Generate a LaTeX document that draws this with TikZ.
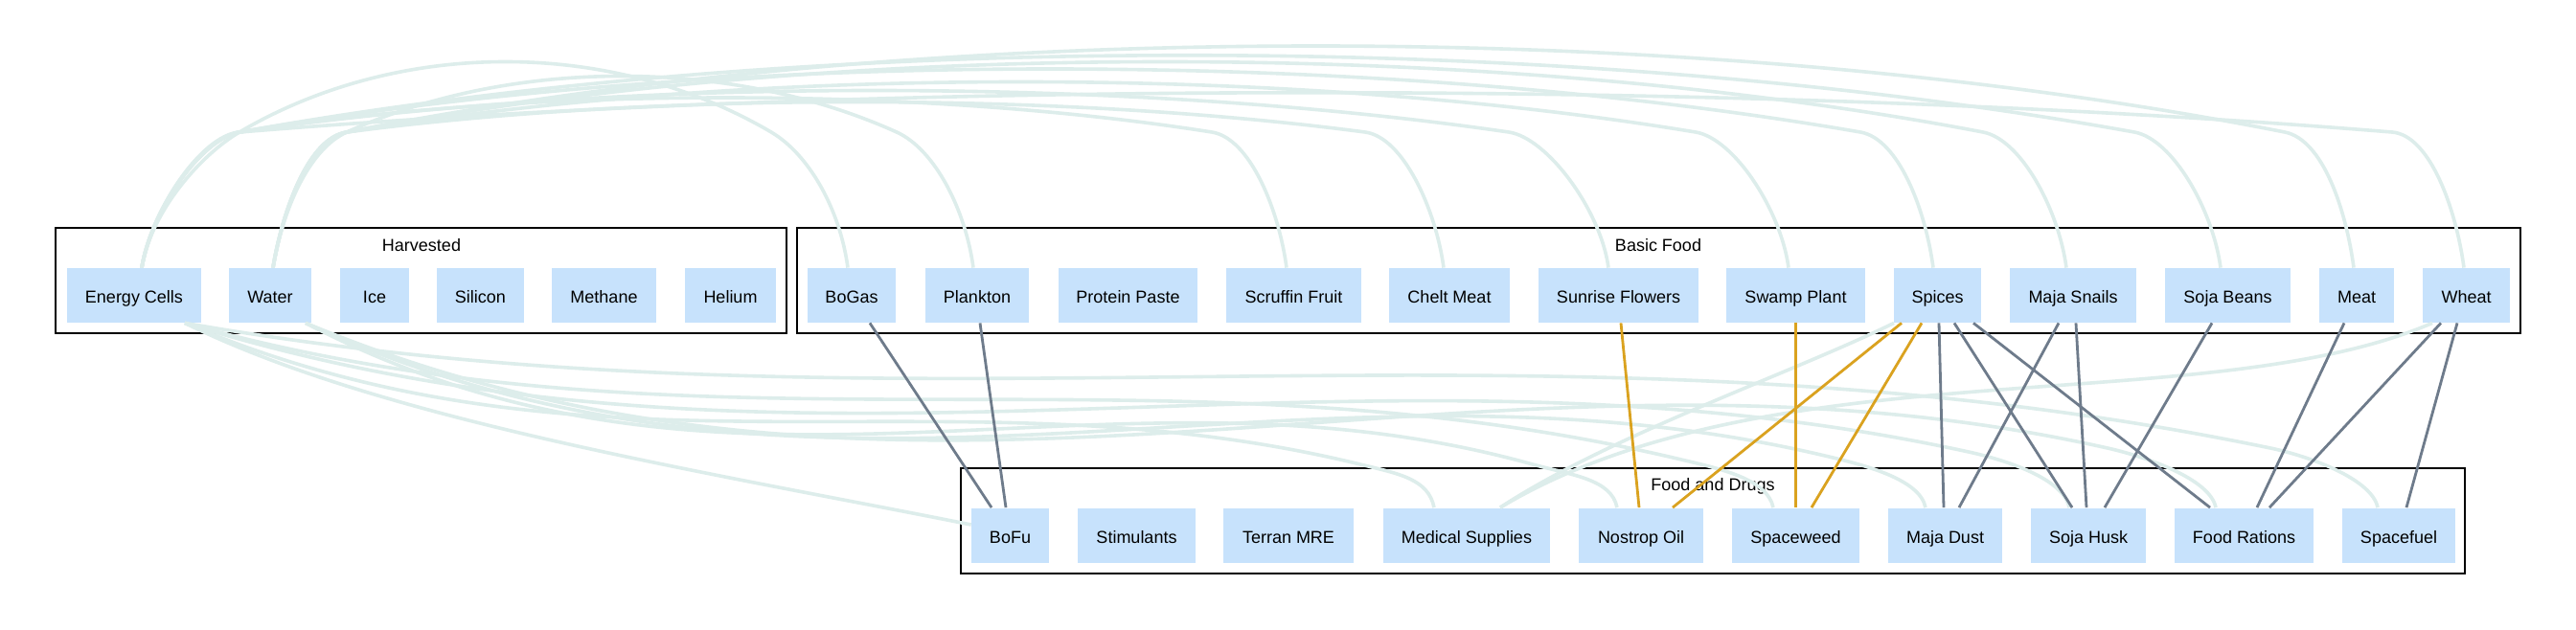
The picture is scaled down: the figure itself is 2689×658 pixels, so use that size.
\documentclass[tikz,border=0pt]{standalone}
\usepackage{fontspec}
\setmainfont{Liberation Sans}
\usetikzlibrary{calc}
\definecolor{nodefill}{HTML}{C7E2FC}
\definecolor{softline}{HTML}{DDEDEB}
\definecolor{slate}{HTML}{6E7B8B}
\definecolor{gold}{HTML}{DAA21F}
% top arc: #1 src, #2 src dx, #3 knee1 x, #4 tgt, #5 tgt dx, #6 knee2 x, #7 control y
\newcommand\toparc[7]{%
  \pgfmathsetmacro\arcTd{#6-#3}%
  \pgfmathsetmacro\arcTa{#3+0.3*\arcTd}%
  \pgfmathsetmacro\arcTb{#6-0.3*\arcTd}%
  \pgfmathsetmacro\arcTs{40*(138-#7)/(0.3*\arcTd)}%
  \draw[faint] ($(#1.north)+(#2,0)$) .. controls +(10,-60) and (#3-40,138+\arcTs) .. (#3,138)
     .. controls (\arcTa,#7) and (\arcTb,#7) .. (#6,138)
     .. controls (#6+40,138+\arcTs) and +(-8,-60) .. ($(#4.north)+(#5,0)$);
}
% low arc: #1 src, #2 src dx, #3 src x, #4 tgt, #5 tgt dx, #6 knee x, #7 knee y, #8 c1 y, #9 c2 y
\newcommand\lowarc[9]{%
  \pgfmathsetmacro\arcLd{#6-#3}%
  \pgfmathsetmacro\arcLa{#3+0.35*\arcLd}%
  \pgfmathsetmacro\arcLb{#6-0.35*\arcLd}%
  \pgfmathsetmacro\arcLs{40*(#7-#9)/(0.35*\arcLd)}%
  \draw[faint] ($(#1.south)+(#2,0)$) .. controls (\arcLa,#8) and (\arcLb,#9) .. (#6,#7)
     .. controls (#6+40,#7+\arcLs) and +(-6,-30) .. ($(#4.north)+(#5,0)$);
}
\begin{document}
\begin{tikzpicture}[x=0.5pt,y=-0.5pt,
  item/.style={fill=nodefill, draw=none, minimum height=28.5pt, inner sep=0pt,
    text height=8pt, text depth=0pt, font=\fontsize{9}{11}\selectfont},
  cluster/.style={draw=black, line width=0.8pt},
  clabel/.style={font=\fontsize{9}{11}\selectfont, inner sep=0pt, anchor=base},
  hard/.style={draw=slate, line width=1.4pt},
  warm/.style={draw=gold, line width=1.4pt},
  faint/.style={draw=softline, line width=1.8pt}]
\useasboundingbox[fill=white] (0,0) rectangle (2689,658);

% clusters
\draw[cluster] (58,238) rectangle (821,348);
\node[clabel] (lharv) at (440,262) {Harvested};
\draw[cluster] (832,238) rectangle (2631,348);
\node[clabel] (lbasic) at (1731,262) {Basic Food};
\draw[cluster] (1003,489) rectangle (2573,599);
\node[clabel] (lfood) at (1788,512) {Food and Drugs};

% row 1
\node[item, minimum width=70pt]   (ec)       at (140,308.5)  {Energy Cells};
\node[item, minimum width=43pt]   (water)    at (282,308.5)  {Water};
\node[item, minimum width=36pt]   (ice)      at (391,308.5)  {Ice};
\node[item, minimum width=45.5pt] (silicon)  at (501.5,308.5) {Silicon};
\node[item, minimum width=54.5pt] (methane)  at (630.5,308.5) {Methane};
\node[item, minimum width=47.5pt] (helium)   at (762.5,308.5) {Helium};
\node[item, minimum width=46pt]   (bogas)    at (889,308.5)  {BoGas};
\node[item, minimum width=54pt]   (plankton) at (1020,308.5) {Plankton};
\node[item, minimum width=72.5pt] (protein)  at (1177.5,308.5) {Protein Paste};
\node[item, minimum width=70.5pt] (scruffin) at (1350.5,308.5) {Scruffin Fruit};
\node[item, minimum width=63pt]   (chelt)    at (1513,308.5) {Chelt Meat};
\node[item, minimum width=83.5pt] (sunrise)  at (1689.5,308.5) {Sunrise Flowers};
\node[item, minimum width=72.5pt] (swamp)    at (1874.5,308.5) {Swamp Plant};
\node[item, minimum width=45.5pt] (spices)   at (2022.5,308.5) {Spices};
\node[item, minimum width=66pt]   (majasn)   at (2164,308.5) {Maja Snails};
\node[item, minimum width=65.5pt] (sojab)    at (2325.5,308.5) {Soja Beans};
\node[item, minimum width=39pt]   (meat)     at (2460,308.5) {Meat};
\node[item, minimum width=45.5pt] (wheat)    at (2574.5,308.5) {Wheat};

% row 2
\node[item, minimum width=40.5pt] (bofu)      at (1054.5,559) {BoFu};
\node[item, minimum width=61.5pt] (stim)      at (1186.5,559) {Stimulants};
\node[item, minimum width=68pt]   (terran)    at (1345,559)   {Terran MRE};
\node[item, minimum width=87pt]   (medical)   at (1531,559)   {Medical Supplies};
\node[item, minimum width=65pt]   (nostrop)   at (1713,559)   {Nostrop Oil};
\node[item, minimum width=66.5pt] (spaceweed) at (1874.5,559) {Spaceweed};
\node[item, minimum width=59.5pt] (majadust)  at (2030.5,559) {Maja Dust};
\node[item, minimum width=60pt]   (sojahusk)  at (2180,559)   {Soja Husk};
\node[item, minimum width=72.5pt] (rations)   at (2342.5,559) {Food Rations};
\node[item, minimum width=59pt]   (spacefuel) at (2504,559)   {Spacefuel};

% faint top arcs
\toparc{ec}{8}{250}{bogas}{-4}{805}{40}
\toparc{water}{3}{362}{plankton}{-4}{936}{60}
\toparc{ec}{8}{250}{scruffin}{-7.5}{1265}{90}
\toparc{water}{3}{362}{chelt}{-6}{1425}{96}
\toparc{ec}{8}{250}{sunrise}{-10.5}{1575}{80}
\toparc{water}{3}{362}{swamp}{-7.5}{1770}{68}
\toparc{ec}{8}{250}{spices}{-4.5}{1942}{50}
\toparc{water}{3}{362}{majasn}{-7}{2070}{40}
\toparc{ec}{8}{250}{sojab}{-7.5}{2228}{31}
\toparc{water}{3}{362}{meat}{-3}{2385}{18}
\toparc{ec}{8}{250}{wheat}{-2.5}{2497}{83}

% faint low arcs
\draw[faint] ($(ec.south)+(53,0)$) .. controls (400,440) and (750,495) .. ($(bofu.west)+(0,-11)$);
\lowarc{ec}{53}{193}{medical}{-34}{1420}{485}{520}{380}
\lowarc{water}{37}{319}{nostrop}{-25}{1600}{485}{570}{360}
\lowarc{ec}{53}{193}{spaceweed}{-23.5}{1755}{480}{490}{350}
\lowarc{water}{37}{319}{majadust}{-20.5}{1905}{476}{590}{345}
\lowarc{ec}{53}{193}{sojahusk}{-20}{2055}{472}{540}{330}
\lowarc{water}{37}{319}{rations}{-29.5}{2200}{468}{610}{320}
\lowarc{ec}{53}{193}{spacefuel}{-22}{2370}{468}{470}{310}
\draw[faint] ($(spices.south)+(-45.5,0)$) .. controls (1870,390) and (1680,455) .. ($(medical.north)+(35,0)$);
\draw[faint] ($(wheat.south)+(-35.5,0)$) .. controls (2300,440) and (1850,360) .. ($(medical.north)+(35,0)$);

% gray edges
\draw[hard] ($(bogas.south)+(19,0)$) -- ($(bofu.north)+(-19.5,0)$);
\draw[hard] ($(plankton.south)+(3,0)$) -- ($(bofu.north)+(-4.5,0)$);
\draw[hard] ($(spices.south)+(1.5,0)$) -- ($(majadust.north)+(-1.5,0)$);
\draw[hard] ($(spices.south)+(17.5,0)$) -- ($(sojahusk.north)+(-17,0)$);
\draw[hard] ($(spices.south)+(37.5,0)$) -- ($(rations.north)+(-35.5,0)$);
\draw[hard] ($(majasn.south)+(-15,0)$) -- ($(majadust.north)+(14.5,0)$);
\draw[hard] ($(majasn.south)+(3,0)$) -- ($(sojahusk.north)+(-2,0)$);
\draw[hard] ($(sojab.south)+(-16.5,0)$) -- ($(sojahusk.north)+(17,0)$);
\draw[hard] ($(meat.south)+(-13,0)$) -- ($(rations.north)+(13.5,0)$);
\draw[hard] ($(wheat.south)+(-26.5,0)$) -- ($(rations.north)+(26.5,0)$);
\draw[hard] ($(wheat.south)+(-9.5,0)$) -- ($(spacefuel.north)+(8,0)$);

% orange edges
\draw[warm] ($(sunrise.south)+(2.5,0)$) -- ($(nostrop.north)+(-2,0)$);
\draw[warm] (swamp.south) -- (spaceweed.north);
\draw[warm] ($(spices.south)+(-37.5,0)$) -- ($(nostrop.north)+(33,0)$);
\draw[warm] ($(spices.south)+(-16.5,0)$) -- ($(spaceweed.north)+(16.5,0)$);
\end{tikzpicture}
\end{document}
